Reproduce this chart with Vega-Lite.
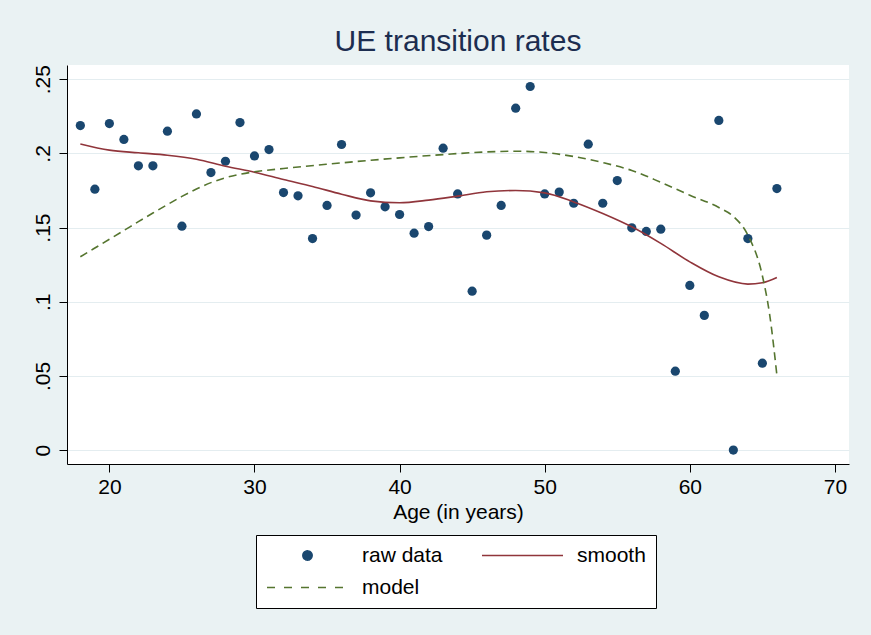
{
  "$schema": "https://vega.github.io/schema/vega-lite/v6.json",
  "width": 782,
  "height": 399,
  "autosize": {"type": "none"},
  "padding": {"left": 67, "top": 65, "right": 22, "bottom": 171},
  "background": "#eaf2f3",
  "config": {
    "view": {"fill": "white", "stroke": null},
    "font": "Liberation Sans",
    "axis": {"domainColor": "black", "tickColor": "black", "labelColor": "black", "titleColor": "black", "tickSize": 8, "labelFontSize": 21, "titleFontSize": 21, "titleFontWeight": "normal"}
  },
  "title": {"text": "UE transition rates", "fontSize": 30, "fontWeight": "normal", "color": "#1c2d50", "anchor": "middle", "frame": "group", "baseline": "alphabetic", "offset": 12, "dy": 28},
  "datasets": {
    "raw": [
      {"age": 18, "rate": 0.2188, "series": "raw data"}, {"age": 19, "rate": 0.1759, "series": "raw data"}, {"age": 20, "rate": 0.2201, "series": "raw data"}, {"age": 21, "rate": 0.2094, "series": "raw data"},
      {"age": 22, "rate": 0.1916, "series": "raw data"}, {"age": 23, "rate": 0.1916, "series": "raw data"}, {"age": 24, "rate": 0.2150, "series": "raw data"}, {"age": 25, "rate": 0.1509, "series": "raw data"},
      {"age": 26, "rate": 0.2266, "series": "raw data"}, {"age": 27, "rate": 0.1871, "series": "raw data"}, {"age": 28, "rate": 0.1947, "series": "raw data"}, {"age": 29, "rate": 0.2208, "series": "raw data"},
      {"age": 30, "rate": 0.1983, "series": "raw data"}, {"age": 31, "rate": 0.2026, "series": "raw data"}, {"age": 32, "rate": 0.1736, "series": "raw data"}, {"age": 33, "rate": 0.1714, "series": "raw data"},
      {"age": 34, "rate": 0.1426, "series": "raw data"}, {"age": 35, "rate": 0.1649, "series": "raw data"}, {"age": 36, "rate": 0.2060, "series": "raw data"}, {"age": 37, "rate": 0.1584, "series": "raw data"},
      {"age": 38, "rate": 0.1734, "series": "raw data"}, {"age": 39, "rate": 0.1640, "series": "raw data"}, {"age": 40, "rate": 0.1588, "series": "raw data"}, {"age": 41, "rate": 0.1462, "series": "raw data"},
      {"age": 42, "rate": 0.1507, "series": "raw data"}, {"age": 43, "rate": 0.2035, "series": "raw data"}, {"age": 44, "rate": 0.1727, "series": "raw data"}, {"age": 45, "rate": 0.1071, "series": "raw data"},
      {"age": 46, "rate": 0.1449, "series": "raw data"}, {"age": 47, "rate": 0.1649, "series": "raw data"}, {"age": 48, "rate": 0.2305, "series": "raw data"}, {"age": 49, "rate": 0.2451, "series": "raw data"},
      {"age": 50, "rate": 0.1727, "series": "raw data"}, {"age": 51, "rate": 0.1739, "series": "raw data"}, {"age": 52, "rate": 0.1664, "series": "raw data"}, {"age": 53, "rate": 0.2062, "series": "raw data"},
      {"age": 54, "rate": 0.1664, "series": "raw data"}, {"age": 55, "rate": 0.1817, "series": "raw data"}, {"age": 56, "rate": 0.1498, "series": "raw data"}, {"age": 57, "rate": 0.1474, "series": "raw data"},
      {"age": 58, "rate": 0.1489, "series": "raw data"}, {"age": 59, "rate": 0.0532, "series": "raw data"}, {"age": 60, "rate": 0.1110, "series": "raw data"}, {"age": 61, "rate": 0.0908, "series": "raw data"},
      {"age": 62, "rate": 0.2222, "series": "raw data"}, {"age": 63, "rate": 0.0, "series": "raw data"}, {"age": 64, "rate": 0.1426, "series": "raw data"}, {"age": 65, "rate": 0.0586, "series": "raw data"},
      {"age": 66, "rate": 0.1763, "series": "raw data"}
    ],
    "smooth": [
      {"age": 18, "rate": 0.2064, "series": "smooth"}, {"age": 20, "rate": 0.2022, "series": "smooth"}, {"age": 22, "rate": 0.2004, "series": "smooth"}, {"age": 24, "rate": 0.1988, "series": "smooth"},
      {"age": 26, "rate": 0.1961, "series": "smooth"}, {"age": 28, "rate": 0.1914, "series": "smooth"}, {"age": 30, "rate": 0.1873, "series": "smooth"}, {"age": 32, "rate": 0.1824, "series": "smooth"},
      {"age": 34, "rate": 0.1777, "series": "smooth"}, {"age": 36, "rate": 0.1725, "series": "smooth"}, {"age": 38, "rate": 0.1680, "series": "smooth"}, {"age": 40, "rate": 0.1667, "series": "smooth"},
      {"age": 42, "rate": 0.1685, "series": "smooth"}, {"age": 44, "rate": 0.1712, "series": "smooth"}, {"age": 46, "rate": 0.1741, "series": "smooth"}, {"age": 48, "rate": 0.1750, "series": "smooth"},
      {"age": 50, "rate": 0.1734, "series": "smooth"}, {"age": 52, "rate": 0.1673, "series": "smooth"}, {"age": 54, "rate": 0.1595, "series": "smooth"}, {"age": 56, "rate": 0.1505, "series": "smooth"},
      {"age": 58, "rate": 0.1393, "series": "smooth"}, {"age": 60, "rate": 0.1269, "series": "smooth"}, {"age": 62, "rate": 0.1168, "series": "smooth"}, {"age": 64, "rate": 0.1119, "series": "smooth"},
      {"age": 65, "rate": 0.1128, "series": "smooth"}, {"age": 66, "rate": 0.1164, "series": "smooth"}
    ],
    "model": [
      {"age": 18, "rate": 0.1303, "series": "model"}, {"age": 19, "rate": 0.1362, "series": "model"}, {"age": 20, "rate": 0.1421, "series": "model"}, {"age": 21, "rate": 0.1480, "series": "model"},
      {"age": 22, "rate": 0.1540, "series": "model"}, {"age": 23, "rate": 0.1598, "series": "model"}, {"age": 24, "rate": 0.1655, "series": "model"}, {"age": 25, "rate": 0.1710, "series": "model"},
      {"age": 26, "rate": 0.1760, "series": "model"}, {"age": 27, "rate": 0.1803, "series": "model"}, {"age": 28, "rate": 0.1836, "series": "model"}, {"age": 29, "rate": 0.1859, "series": "model"},
      {"age": 30, "rate": 0.1876, "series": "model"}, {"age": 32, "rate": 0.1898, "series": "model"}, {"age": 35, "rate": 0.1927, "series": "model"}, {"age": 40, "rate": 0.1970, "series": "model"},
      {"age": 43, "rate": 0.1992, "series": "model"}, {"age": 46, "rate": 0.2010, "series": "model"}, {"age": 48, "rate": 0.2015, "series": "model"}, {"age": 50, "rate": 0.2006, "series": "model"},
      {"age": 52, "rate": 0.1979, "series": "model"}, {"age": 54, "rate": 0.1938, "series": "model"}, {"age": 56, "rate": 0.1885, "series": "model"}, {"age": 58, "rate": 0.1805, "series": "model"},
      {"age": 60, "rate": 0.1718, "series": "model"}, {"age": 62, "rate": 0.1635, "series": "model"}, {"age": 63, "rate": 0.1575, "series": "model"}, {"age": 64, "rate": 0.1449, "series": "model"},
      {"age": 65, "rate": 0.1175, "series": "model"}, {"age": 65.5, "rate": 0.0915, "series": "model"}, {"age": 66, "rate": 0.0505, "series": "model"}
    ]
  },
  "encoding": {
    "x": {"field": "age", "type": "quantitative", "scale": {"domain": [17.08, 70.97], "nice": false, "zero": false},
      "axis": {"values": [20, 30, 40, 50, 60, 70], "grid": false, "labelPadding": 4, "title": "Age (in years)", "titlePadding": 4}},
    "y": {"field": "rate", "type": "quantitative", "scale": {"domain": [-0.0094, 0.2596], "nice": false, "zero": false},
      "axis": {"values": [0, 0.05, 0.1, 0.15, 0.2, 0.25], "grid": true, "gridColor": "#e4edf0", "gridWidth": 1.2,
        "labelExpr": "datum.value === 0 ? '0' : replace(format(datum.value, '.2~f'), '0.', '.')",
        "labelAngle": -90, "labelAlign": "center", "labelBaseline": "bottom", "labelPadding": 6, "title": null}},
    "color": {"field": "series", "type": "nominal",
      "scale": {"domain": ["raw data", "smooth", "model"], "range": ["#1a476f", "#90353b", "#55752f"]},
      "legend": {
        "orient": "none", "legendX": 189, "legendY": 470, "columns": 2, "title": null,
        "values": ["raw data", "model", "smooth"],
        "padding": 10, "fillColor": "white", "strokeColor": "black",
        "labelFontSize": 21, "labelColor": "black", "labelFont": "Liberation Sans",
        "symbolSize": 6561, "labelOffset": 13, "columnPadding": 38, "rowPadding": 10, "clipHeight": 21,
        "symbolStrokeWidth": 1.6,
        "encode": {"symbols": {"update": {
          "shape": {"signal": "datum.value === 'raw data' ? 'circle' : 'stroke'"},
          "size": {"signal": "datum.value === 'raw data' ? 85 : 6561"},
          "fill": {"signal": "datum.value === 'raw data' ? '#1a476f' : 'transparent'"},
          "stroke": {"signal": "datum.value === 'raw data' ? 'transparent' : (datum.value === 'smooth' ? '#90353b' : '#55752f')"},
          "strokeDash": {"signal": "datum.value === 'model' ? [8, 9] : [1, 0]"}
        }}}
      }}
  },
  "layer": [
    {
      "data": {"name": "raw"},
      "mark": {"type": "point", "filled": true, "size": 85, "opacity": 1}
    },
    {
      "data": {"name": "smooth"},
      "mark": {"type": "line", "interpolate": "monotone", "strokeWidth": 1.6}
    },
    {
      "data": {"name": "model"},
      "mark": {"type": "line", "interpolate": "monotone", "strokeWidth": 1.6, "strokeDash": [8, 5]}
    }
  ]
}
